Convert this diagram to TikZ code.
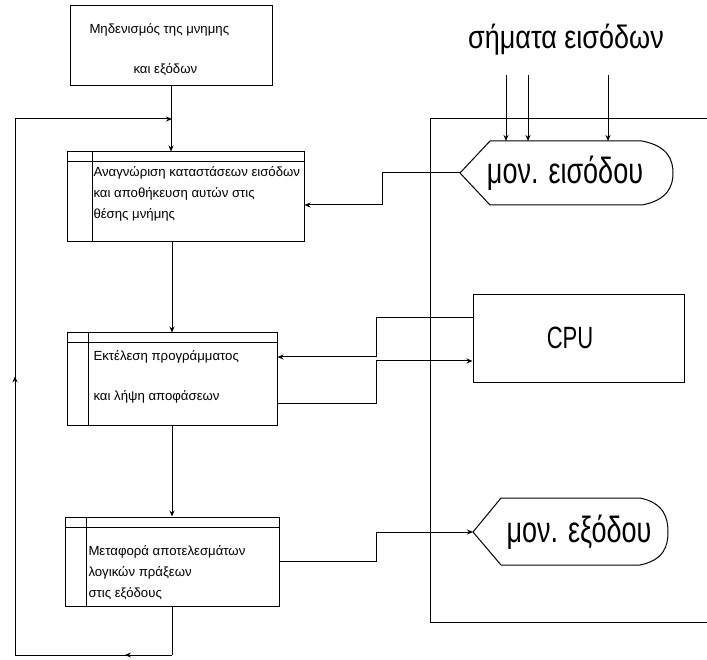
\documentclass[tikz,border=0pt]{standalone}
\usepackage{fontspec}
\setmainfont{Liberation Sans}
\usetikzlibrary{arrows.meta}
\usetikzlibrary{decorations.markings}
\tikzset{->-/.style={decoration={
      markings,
      mark=at position #1 with {\arrow{>}}},postaction={decorate}},
  ->-/.default=0.5}
\tikzset{procbox/.style={draw, rectangle, inner sep=0pt, path picture={
      \draw ([yshift=-10pt]path picture bounding box.north west) -- ([yshift=-10pt]path picture bounding box.north east);
      \draw ([xshift=#1]path picture bounding box.north west) -- ([xshift=#1]path picture bounding box.south west);}}}
\tikzset{boxtext/.style={anchor=north west, inner sep=0pt, align=left, font=\fontsize{13.2}{21}\selectfont}}
\tikzset{bigtext/.style={inner sep=0pt, font=\fontsize{27}{30}\selectfont}}
\newcommand{\tallbox}[2][1.35]{\scalebox{1}[#1]{#2}}

\begin{document}
\begin{tikzpicture}[x=1pt,y=-1pt,line width=1pt,>={Stealth[length=6pt,width=5pt]}]
		\useasboundingbox (0,0) rectangle (707,660);
		% process boxes
		\node[draw, minimum width=202pt, minimum height=80pt] (b1) at (171,46) {};
		\node[procbox=25pt, minimum width=237pt, minimum height=90pt] (b2) at (185.5,197) {};
		\node[procbox=21pt, minimum width=210pt, minimum height=92pt] (b3) at (172,379) {};
		\node[procbox=21pt, minimum width=214pt, minimum height=89pt] (b4) at (172,561.5) {};
		\node[boxtext, anchor=west] (t1a) at (89,30) {Μηδενισμός της μνημης};
		\node[boxtext, anchor=west] (t1b) at (133,70) {και εξόδων};
		\node[boxtext] (t2) at (93,166) {Αναγνώριση καταστάσεων εισόδων\\και αποθήκευση αυτών στις\\θέσης μνήμης};
		\node[boxtext] (t3) at (93,350) {Εκτέλεση προγράμματος\\[19pt]και λήψη αποφάσεων};
		\node[boxtext] (t4) at (88,545) {Μεταφορά αποτελεσμάτων\\λογικών πράξεων\\στις εξόδους};
		% system side
		\draw (707,119) -- (430,119) -- (430,622) -- (707,622);
		\node[bigtext] (sig) at (566,40) {\tallbox[1.2]{σήματα εισόδων}};
		\node[bigtext] (inmod) at (565,173) {\tallbox{μον. εισόδου}};
		\draw (460,173) coordinate (intip) -- (490,141) -- (642,141) .. controls (668,146) and (673,160) .. (673,173) .. controls (673,186) and (668,200) .. (642,205) -- (490,205) -- cycle;
		\node[draw, minimum width=211pt, minimum height=87pt] (cpu) at (578.5,338.5) {};
		\node[inner sep=0pt, font=\fontsize{22}{26}\selectfont] (cputext) at (570,338) {\tallbox[1.4]{CPU}};
		\node[bigtext] (outmod) at (579,532) {\tallbox{μον. εξόδου}};
		\draw (473,532) coordinate (outtip) -- (501,498) -- (640,498) .. controls (664,503) and (668,518) .. (668,532) .. controls (668,546) and (664,560) .. (640,565) -- (501,565) -- cycle;
		% connectors
		\coordinate (col) at (172,0);
		\coordinate (lt) at (15,119);
		\coordinate (lb) at (15,655);
		\draw[->] (b1.south) -- (b1.south |- b2.north);
		\draw[->] (col |- b2.south) -- (col |- b3.north);
		\draw[->] (col |- b3.south) -- (col |- b4.north);
		\draw (col |- b4.south) -- (col |- lb);
		\draw[->-=0.3] (col |- lb) -- (lb);
		\draw[->-=0.52] (lb) -- (lt);
		\draw[->] (lt) -- (col |- lt);
		\foreach \x in {506,528,608}
			\draw[->] (\x,75) -- (\x,141);
		\draw[->] (intip) -- (382,173) |- ([yshift=-8pt]b2.east);
		\draw[->] ([yshift=20.5pt]cpu.west) -| (376,357) -- ([yshift=22pt]b3.east);
		\draw[->] ([yshift=-24pt]b3.east) -| (376,361) -- ([yshift=-22.5pt]cpu.west);
		\draw[->] (b4.east) -| (376,532) -- (outtip);
\end{tikzpicture}
\end{document}
